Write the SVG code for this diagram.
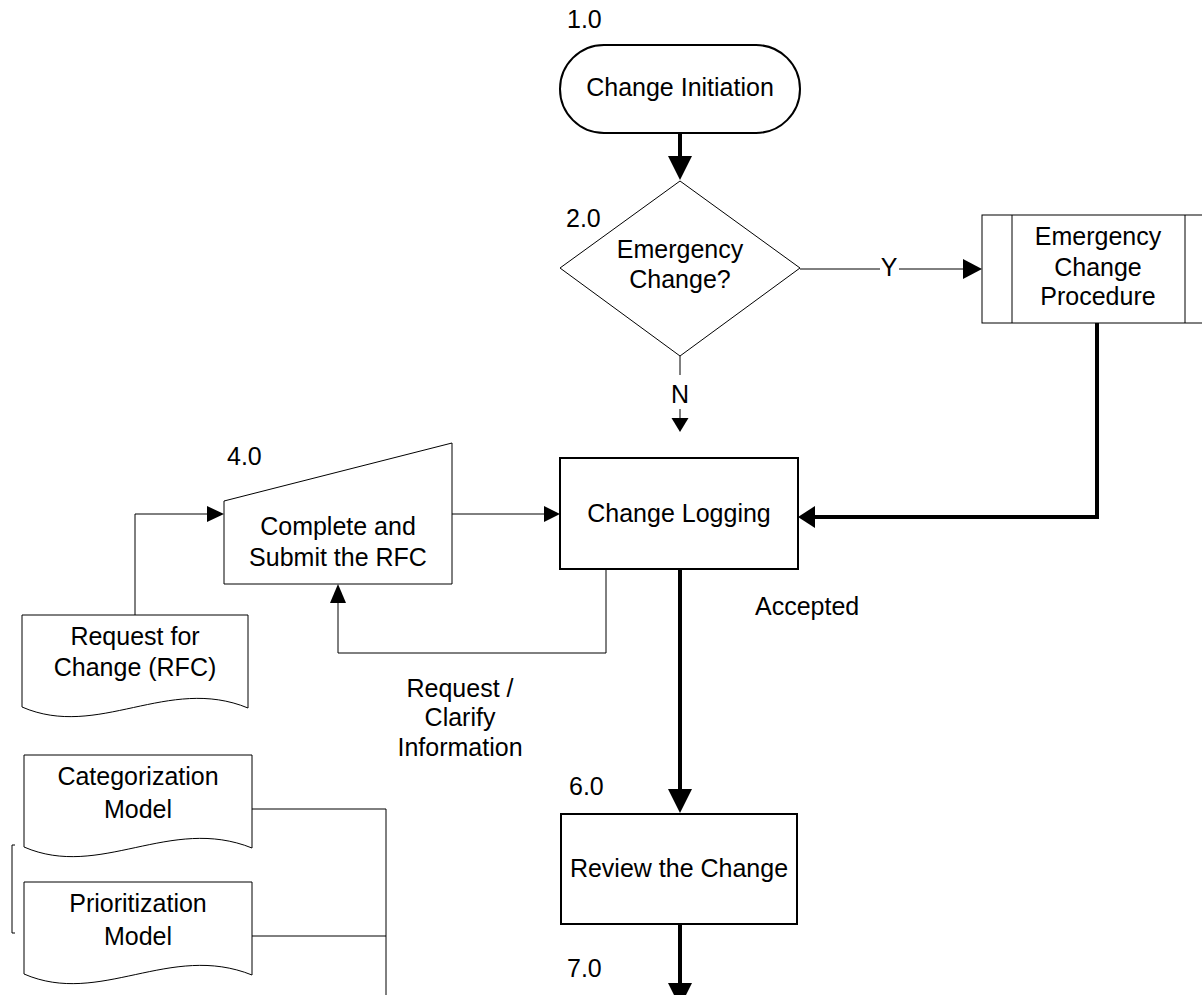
<svg xmlns="http://www.w3.org/2000/svg" width="1202" height="995" viewBox="0 0 1202 995">
<style>
text{font-family:"Liberation Sans",Arial,sans-serif;font-size:25px;fill:#000}
.c{text-anchor:middle}
.thin{fill:#fff;stroke:#000;stroke-width:1}
.bold{fill:#fff;stroke:#000;stroke-width:2}
.ln{fill:none;stroke:#000;stroke-width:1}
.thk{fill:none;stroke:#000;stroke-width:4}
.ah{fill:#000;stroke:none}
</style>
<rect width="1202" height="995" fill="#fff"/>
<g id="connectors">
<path class="thk" d="M680,133 V158"/>
<polygon class="ah" points="668,156 692,156 680,180"/>
<path class="ln" d="M800,269 H880 M899,269 H964"/>
<polygon class="ah" points="963,259 963,279 982,269"/>
<text x="889" y="276" class="c">Y</text>
<path class="ln" d="M680,356 V375 M680,409 V419"/>
<polygon class="ah" points="671.5,418 688.5,418 680,432"/>
<text x="680" y="403" class="c">N</text>
<path class="thk" d="M1097,323 V517 H812"/>
<polygon class="ah" points="815,506 815,528 798,517"/>
<path class="ln" d="M135,615 V514 H208"/>
<polygon class="ah" points="207,506 207,522 224,514"/>
<path class="ln" d="M452,514 H545"/>
<polygon class="ah" points="544,506 544,522 560,514"/>
<path class="ln" d="M606,569 V653 H338 V602"/>
<polygon class="ah" points="330,603 346,603 338,584"/>
<text x="460" y="697" class="c">Request /</text>
<text x="460" y="726" class="c">Clarify</text>
<text x="460" y="756" class="c">Information</text>
<path class="thk" d="M680,569 V791"/>
<polygon class="ah" points="668,789 692,789 680,813"/>
<text x="755" y="615">Accepted</text>
<path class="thk" d="M680,924 V985"/>
<polygon class="ah" points="668,983 692,983 680,1007"/>
<path class="ln" d="M252,809 H386 M252,936 H386 M386,809 V995"/>
<path class="ln" d="M15,845 H12 V933 H15"/>
</g>
<g id="n1">
<text x="567" y="28">1.0</text>
<rect class="bold" x="560" y="45" width="240" height="88" rx="44" ry="44"/>
<text x="680" y="96" class="c">Change Initiation</text>
</g>
<g id="n2">
<polygon class="thin" points="680,181 800,268 680,356 560,268"/>
<text x="566" y="227">2.0</text>
<text x="680" y="258" class="c">Emergency</text>
<text x="680" y="288" class="c">Change?</text>
</g>
<g id="n3">
<rect class="thin" x="982" y="215" width="240" height="108"/>
<path class="ln" d="M1012,215 V323 M1185,215 V323"/>
<text x="1098" y="245" class="c">Emergency</text>
<text x="1098" y="276" class="c">Change</text>
<text x="1098" y="305" class="c">Procedure</text>
</g>
<g id="n4">
<text x="227" y="465">4.0</text>
<polygon class="thin" points="224,501 452,443 452,584 224,584"/>
<text x="338" y="535" class="c">Complete and</text>
<text x="338" y="566" class="c">Submit the RFC</text>
</g>
<g id="n5">
<rect class="bold" x="560" y="458" width="238" height="111"/>
<text x="679" y="522" class="c">Change Logging</text>
</g>
<g id="rfc">
<path class="thin" d="M22,615 H248 V708 C168,675 98,740 22,707 Z"/>
<text x="135" y="645" class="c">Request for</text>
<text x="135" y="676" class="c">Change (RFC)</text>
</g>
<g id="n6">
<text x="569" y="795">6.0</text>
<rect class="bold" x="561" y="814" width="236" height="110"/>
<text x="679" y="877" class="c">Review the Change</text>
<text x="567" y="977">7.0</text>
</g>
<g id="cat">
<path class="thin" d="M24,755 H252 V848 C170,815 100,880 24,847 Z"/>
<text x="138" y="785" class="c">Categorization</text>
<text x="138" y="818" class="c">Model</text>
</g>
<g id="pri">
<path class="thin" d="M24,882 H252 V975 C170,942 100,1007 24,974 Z"/>
<text x="138" y="912" class="c">Prioritization</text>
<text x="138" y="945" class="c">Model</text>
</g>
</svg>
